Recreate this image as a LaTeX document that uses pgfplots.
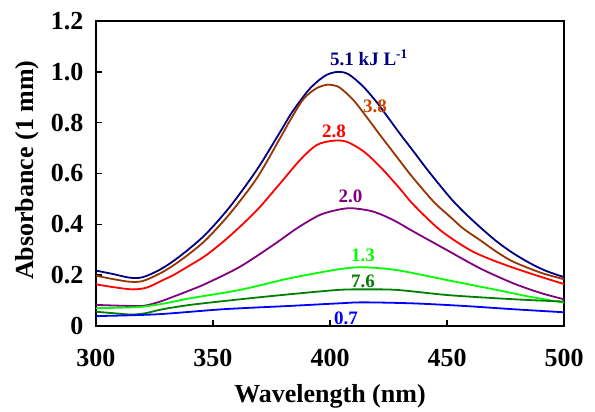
\documentclass[border=0pt]{standalone}
\usepackage{fontspec}
\setmainfont{Liberation Serif}
\usepackage{pgfplots}
\pgfplotsset{compat=1.18}
\definecolor{cnavy}{RGB}{0,0,128}
\definecolor{cbrown}{RGB}{153,51,0}
\definecolor{cbrownlab}{RGB}{204,68,0}
\definecolor{cred}{RGB}{255,0,0}
\definecolor{cpurple}{RGB}{128,0,128}
\definecolor{clgreen}{RGB}{0,255,0}
\definecolor{cdgreen}{RGB}{0,128,0}
\definecolor{cblue}{RGB}{0,0,255}
\begin{document}
\begin{tikzpicture}
\begin{axis}[
  at={(96pt,86pt)}, anchor=south west,
  scale only axis, width=468pt, height=305pt,
  xmin=300, xmax=500, ymin=0, ymax=1.2,
  xtick={300,350,400,450,500},
  ytick={0,0.2,0.4,0.6,0.8,1.0,1.2},
  yticklabels={0,0.2,0.4,0.6,0.8,1.0,1.2},
  tick align=inside, major tick length=6pt,
  xtick pos=bottom, ytick pos=left,
  axis line style={line width=1.8pt},
  tick style={line width=1.5pt, black},
  /pgf/number format/assume math mode=true,
  tick label style={font=\fontsize{26}{30}\selectfont\bfseries},
  xticklabel style={yshift=-20pt},
  yticklabel style={xshift=-9pt},
  xlabel={Wavelength (nm)},
  ylabel={Absorbance (1 mm)},
  label style={font=\fontsize{26}{30}\selectfont\bfseries},
  xlabel style={at={(axis description cs:0.5,-0.252)}, anchor=base},
  ylabel style={at={(axis description cs:-0.133,0.511)}, anchor=base, rotate=0},
  every axis plot/.append style={line width=1.8pt, smooth, tension=0.5},
  clip=false,
]
\addplot[cnavy] coordinates {(300,0.218) (307,0.205) (314.5,0.19) (320,0.192) (327,0.22) (333,0.255) (340,0.305) (347.3,0.365) (357.3,0.47) (368.7,0.614) (378.6,0.762) (383,0.83) (387.2,0.885) (391,0.93) (395,0.965) (399,0.99) (403.6,1.0) (408,0.99) (414.2,0.942) (420,0.88) (425,0.818) (430,0.755) (435.6,0.688) (441,0.622) (447,0.553) (452,0.498) (457,0.45) (464,0.39) (471.2,0.333) (478,0.288) (485.5,0.247) (492,0.218) (500,0.192)};
\addplot[cbrown] coordinates {(300,0.198) (307,0.185) (314.5,0.174) (320,0.177) (327,0.205) (333,0.238) (340,0.285) (347.3,0.342) (357.3,0.443) (368.7,0.581) (378.6,0.738) (383,0.81) (388,0.885) (391.5,0.918) (395,0.939) (398.6,0.949) (401,0.948) (404.3,0.937) (410,0.889) (416,0.818) (421.5,0.75) (428.5,0.666) (434,0.6) (439.9,0.535) (445,0.482) (451.3,0.43) (457,0.383) (464.1,0.338) (471,0.293) (478.3,0.253) (490,0.21) (500,0.184)};
\addplot[cred] coordinates {(300,0.164) (308,0.152) (316,0.144) (322,0.152) (328,0.178) (333,0.2) (340,0.238) (347.3,0.28) (357.3,0.355) (368.7,0.455) (378.6,0.56) (387.2,0.653) (394.3,0.712) (401.4,0.729) (407.1,0.725) (414.2,0.688) (421.4,0.627) (429.9,0.54) (435.6,0.478) (447,0.378) (459.8,0.299) (471.2,0.253) (485.5,0.207) (500,0.165)};
\addplot[cpurple] coordinates {(300,0.083) (310,0.08) (320,0.079) (327,0.095) (333,0.115) (340,0.14) (347.3,0.168) (361.5,0.233) (375.8,0.319) (385.8,0.384) (395.7,0.437) (404.3,0.459) (410,0.463) (418.5,0.45) (427,0.417) (435.6,0.372) (449.9,0.299) (464.1,0.227) (478.3,0.168) (490,0.13) (500,0.105)};
\addplot[clgreen] coordinates {(300,0.07) (310,0.072) (320,0.076) (330,0.09) (340.2,0.109) (361.5,0.142) (382.9,0.188) (403.6,0.223) (414.2,0.231) (428.5,0.22) (449.9,0.181) (471.2,0.142) (485.5,0.115) (500,0.092)};
\addplot[cdgreen] coordinates {(300,0.056) (308,0.05) (315,0.045) (321,0.05) (328,0.065) (340.2,0.083) (361.5,0.105) (382.9,0.125) (403.6,0.142) (414.2,0.144) (428.5,0.142) (449.9,0.122) (471.2,0.109) (485.5,0.102) (500,0.096)};
\addplot[cblue] coordinates {(300,0.039) (326,0.046) (354.4,0.066) (382.9,0.079) (403.6,0.089) (414.2,0.093) (435.6,0.089) (457,0.079) (478.3,0.066) (500,0.054)};
\begin{scope}[every node/.style={font=\fontsize{19}{22}\selectfont\bfseries, inner sep=0pt}]
\node[text=cnavy, anchor=west] at (axis cs:400,1.055) {5.1 kJ L\textsuperscript{-1}};
\node[text=cbrownlab] at (axis cs:419.2,0.865) {3.8};
\node[text=cred] at (axis cs:401.7,0.767) {2.8};
\node[text=cpurple] at (axis cs:408.8,0.509) {2.0};
\node[text=clgreen] at (axis cs:414.1,0.279) {1.3};
\node[text=cdgreen] at (axis cs:414.1,0.177) {7.6};
\node[text=cblue] at (axis cs:406.8,0.031) {0.7};
\end{scope}
\end{axis}
\pgfresetboundingbox
\path[use as bounding box] (0pt,0pt) rectangle (595pt,412pt);
\end{tikzpicture}
\end{document}
